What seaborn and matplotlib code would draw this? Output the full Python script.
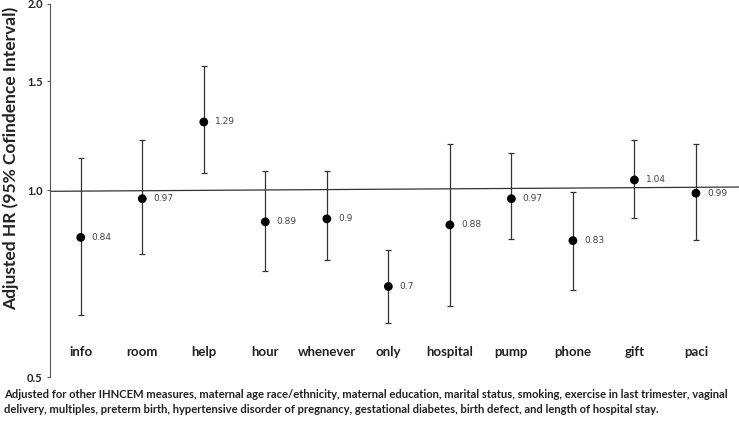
import numpy as np
import pandas as pd
import matplotlib
matplotlib.use("Agg")
import matplotlib.pyplot as plt
from matplotlib.ticker import FixedLocator, FixedFormatter, NullLocator
import seaborn as sns

categories = ["info", "room", "help", "hour", "whenever", "only", "hospital", "pump", "phone", "gift", "paci"]
hr = [0.84, 0.97, 1.29, 0.89, 0.90, 0.70, 0.88, 0.97, 0.83, 1.04, 0.99]
ci_low = [0.63, 0.79, 1.066, 0.741, 0.772, 0.610, 0.651, 0.834, 0.691, 0.904, 0.832]
ci_high = [1.127, 1.206, 1.588, 1.076, 1.076, 0.803, 1.187, 1.148, 0.993, 1.206, 1.187]
value_labels = ["0.84", "0.97", "1.29", "0.89", "0.9", "0.7", "0.88", "0.97", "0.83", "1.04", "0.99"]
yticks = [0.5, 1.0, 1.5, 2.0]
ytick_labels = ["0.5", "1.0", "1.5", "2.0"]
ylabel = "Adjusted HR (95% Cofindence Interval)"
footnote = ("Adjusted for other IHNCEM measures, maternal age race/ethnicity, maternal education, marital status, smoking, exercise in last trimester, vaginal\n"
            "delivery, multiples, preterm birth, hypertensive disorder of pregnancy, gestational diabetes, birth defect, and length of hospital stay.")

df = pd.DataFrame({"cat": categories, "pos": np.arange(len(categories)), "hr": hr,
                   "lo": ci_low, "hi": ci_high, "lab": value_labels})

sns.set_theme(style="white")
plt.rcParams["font.family"] = ["Lato", "DejaVu Sans"]

fig = plt.figure(figsize=(7.39, 4.22), dpi=100)
ax = fig.add_axes([50/739, 1-377/422, 1-50/739, 373/422])

ax.set_yscale("log")
ax.set_ylim(0.5, 2.0)
ax.set_xlim(-0.5, 10.7)

# reference line near 1.0
ax.plot([-0.5, 10.7], [0.997, 1.013], color="#333333", lw=0.9, zorder=1)

ax.errorbar(df["pos"], df["hr"],
            yerr=[df["hr"] - df["lo"], df["hi"] - df["hr"]],
            fmt="none", ecolor="#333333", elinewidth=0.9, capsize=2.2, capthick=0.9, zorder=2)
sns.scatterplot(data=df, x="pos", y="hr", ax=ax, color="black", s=40, edgecolor="none",
                zorder=3, legend=False)

for _, r in df.iterrows():
    ax.annotate(r["lab"], (r["pos"], r["hr"]), xytext=(8, 0), textcoords="offset points",
                va="center", ha="left", fontsize=6.5, color="#444444", family="DejaVu Sans")
    ax.text(r["pos"], 0.548, r["cat"], ha="center", va="center", fontsize=9.5,
            fontweight="bold", color="#222222")

ax.yaxis.set_major_locator(FixedLocator(yticks))
ax.yaxis.set_major_formatter(FixedFormatter(ytick_labels))
ax.yaxis.set_minor_locator(NullLocator())
ax.set_xticks([])
ax.set_xlabel("")
ax.set_ylabel(ylabel, fontsize=12.5, fontweight="bold", color="#222222")
ax.yaxis.set_label_coords(-0.045, 0.585)

for lab in ax.get_yticklabels():
    lab.set_fontweight("bold")
    lab.set_fontsize(8)
    lab.set_color("#222222")
ax.tick_params(axis="y", which="major", left=True, length=2.2, width=0.8, color="#555555", pad=3)

for s in ["top", "right", "bottom"]:
    ax.spines[s].set_visible(False)
ax.spines["left"].set_color("#555555")
ax.spines["left"].set_linewidth(0.8)

fig.text(4/739, 1-389/422, footnote, ha="left", va="top", fontsize=8.1, fontweight="bold",
         color="#222222", linespacing=1.4)

fig.savefig("out.png", dpi=100)
